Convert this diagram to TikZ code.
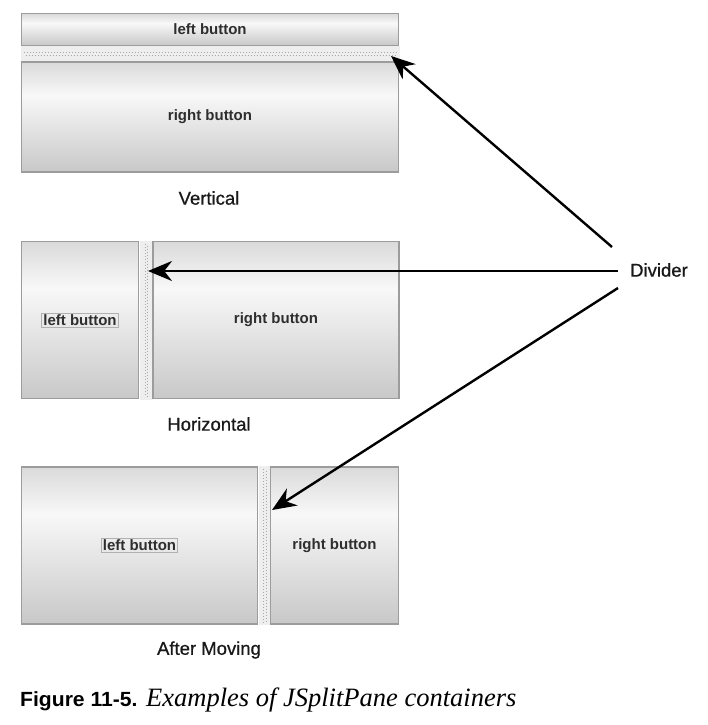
\documentclass[tikz,border=0pt]{standalone}
\usepackage{fontspec}
\setmainfont{Liberation Sans}
\newfontfamily\capserif{Liberation Serif}
\newfontfamily\labelfont[FakeBold=0.8]{Liberation Sans}
\newfontfamily\fignofont[FakeStretch=1.03]{Liberation Sans}
\usetikzlibrary{arrows.meta}
\definecolor{btntop}{HTML}{DADADA}
\definecolor{btnwhite}{HTML}{F8F8F8}
\definecolor{btnbot}{HTML}{C8C8C8}
\definecolor{btnedge}{HTML}{9C9C9C}
\definecolor{divfill}{HTML}{EEEEEE}
\definecolor{divdot}{HTML}{A8A8A8}
\definecolor{btntext}{HTML}{2E2E2E}
\pgfdeclareverticalshading{btnshade}{100bp}{color(0bp)=(btnbot); color(25bp)=(btnbot); color(60bp)=(btnwhite); color(75bp)=(btntop); color(100bp)=(btntop)}
\begin{document}
\begin{tikzpicture}[x=1pt,y=-1pt,
  btn/.style={draw=btnedge, line width=1.6pt, shading=btnshade, inner sep=0pt},
  btnlabel/.style={font=\bfseries\fontsize{15}{17}\selectfont, text=btntext, inner sep=1.5pt},
  focusbox/.style={draw=btnedge!80, line width=0.8pt},
  divstrip/.style={fill=divfill, draw=none},
  dots/.style={draw=divdot, line width=1pt, dash pattern=on 1pt off 2pt},
  caplabel/.style={font=\labelfont\fontsize{18.5}{20}\selectfont, text=black!90},
  arr/.style={line width=2.4pt, -{Stealth[length=24pt,width=20pt]}}
]
\useasboundingbox (0,0) rectangle (708,725);

% ---------- Vertical ----------
\node[divstrip, minimum width=379pt, minimum height=15pt, inner sep=0pt] (vdiv) at (210.5,53.5) {};
\draw[dots] (24,53) -- (397,53);
\draw[dots, dash phase=1.5pt] (24,55.5) -- (397,55.5);
\node[btn, minimum width=377pt, minimum height=32pt] (vleft) at (210,29.5) {};
\node[btnlabel] (vleftt) at (vleft.center) {left button};
\node[btn, minimum width=377pt, minimum height=110pt] (vright) at (210,117) {};
\node[btnlabel] (vrightt) at (vright.center) {right button};
\node[caplabel] (vcap) at (209,198) {Vertical};

% ---------- Horizontal ----------
\node[divstrip, minimum width=13pt, minimum height=159pt, inner sep=0pt] (hdiv) at (146,320) {};
\draw[dots] (145,244) -- (145,397);
\draw[dots, dash phase=1.5pt] (147.5,244) -- (147.5,397);
\node[btn, minimum width=117pt, minimum height=157pt] (hleft) at (80,320) {};
\node[btnlabel, focusbox] (hleftt) at (80,320) {left button};
\node[btn, minimum width=246pt, minimum height=157pt] (hright) at (276,320) {};
\node[btnlabel] (hrightt) at (hright.center) {right button};
\node[caplabel] (hcap) at (209,424) {Horizontal};

% ---------- After Moving ----------
\node[divstrip, minimum width=12pt, minimum height=159pt, inner sep=0pt] (mdiv) at (264.5,545.5) {};
\draw[dots] (263.5,469) -- (263.5,623);
\draw[dots, dash phase=1.5pt] (266,469) -- (266,623);
\node[btn, minimum width=236pt, minimum height=157pt] (mleft) at (139.5,545.5) {};
\node[btnlabel, focusbox] (mleftt) at (139.5,545.5) {left button};
\node[btn, minimum width=128pt, minimum height=157pt] (mright) at (334.5,545.5) {};
\node[btnlabel] (mrightt) at (mright.center) {right button};
\node[caplabel] (mcap) at (209,650) {After Moving};

% ---------- Divider label and arrows ----------
\node[caplabel, anchor=west, inner sep=0pt] (divlbl) at (630,270) {Divider};
\coordinate (s1) at (612,247);
\coordinate (s2) at (618,271);
\coordinate (s3) at (618,288);
\coordinate (t1) at (391,56);
\coordinate (t2) at (148,271);
\coordinate (t3) at (272,510);
\draw[arr] (s1) -- (t1);
\draw[arr] (s2) -- (t2);
\draw[arr] (s3) -- (t3);

% ---------- Caption ----------
\node[anchor=base west, inner sep=0pt, font=\fignofont\bfseries\fontsize{20.5}{22}\selectfont] (figno) at (20,706) {Figure 11-5.};
\node[anchor=base west, inner sep=0pt, font=\capserif\itshape\fontsize{26.5}{28}\selectfont] (figcap) at (146,706) {Examples of JSplitPane containers};
\end{tikzpicture}
\end{document}
